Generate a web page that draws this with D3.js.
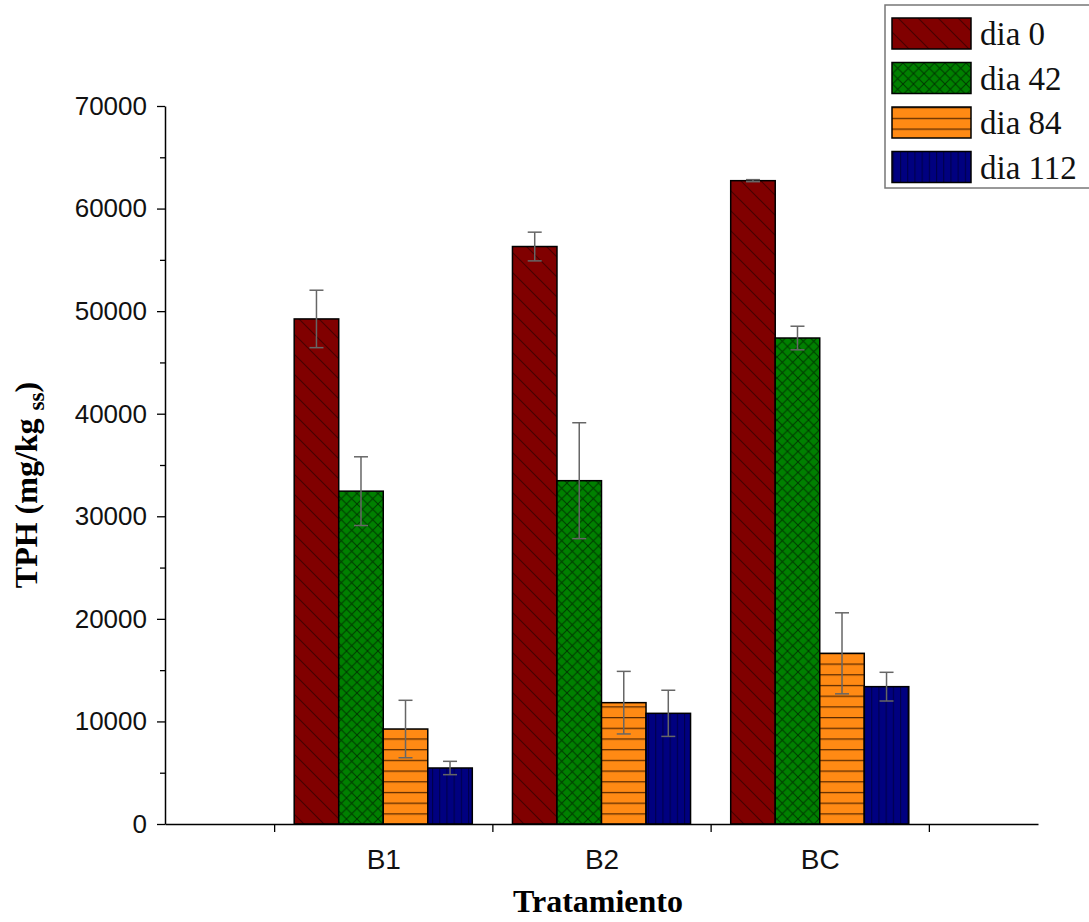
<!DOCTYPE html>
<html><head><meta charset="utf-8">
<script src="https://cdn.jsdelivr.net/npm/d3@7"></script>
<style>body{margin:0;background:#fff}</style></head>
<body><svg id="c" width="1089" height="922"></svg>
<script>
const categories = ["B1", "B2", "BC"];
const seriesNames = ["dia 0", "dia 42", "dia 84", "dia 112"];
const dia0 = [49240, 56300, 62720];
const dia0Err = [2800, 1400, 100];
const dia42 = [32450, 33470, 47380];
const dia42Err = [3350, 5650, 1150];
const dia84 = [9260, 11830, 16640];
const dia84Err = [2800, 3050, 3950];
const dia112 = [5460, 10790, 13390];
const dia112Err = [650, 2250, 1400];
const yTickValues = [0, 10000, 20000, 30000, 40000, 50000, 60000, 70000];
const yMinorTickValues = [5000, 15000, 25000, 35000, 45000, 55000, 65000];
const xBoundaryTicks = [0.5, 1.5, 2.5, 3.5];

const seriesValues = [dia0, dia42, dia84, dia112];
const seriesErrors = [dia0Err, dia42Err, dia84Err, dia112Err];
const fills = ["#800000", "#008000", "#ff8a14", "#000080"];
const patIds = ["p0", "p1", "p2", "p3"];

const svg = d3.select("#c");
const defs = svg.append("defs");

// patterns
const p0 = defs.append("pattern").attr("id", "p0").attr("patternUnits", "userSpaceOnUse")
  .attr("width", 20).attr("height", 20);
p0.append("rect").attr("width", 20).attr("height", 20).attr("fill", fills[0]);
p0.append("path").attr("d", "M0,0L20,20M-10,10L10,30M10,-10L30,10").attr("stroke", "#480000").attr("stroke-width", 1.2);

const p1 = defs.append("pattern").attr("id", "p1").attr("patternUnits", "userSpaceOnUse")
  .attr("width", 10.5).attr("height", 10.5);
p1.append("rect").attr("width", 10.5).attr("height", 10.5).attr("fill", fills[1]);
p1.append("path").attr("d", "M0,0L10.5,10.5M10.5,0L0,10.5").attr("stroke", "#003800").attr("stroke-width", 1);

const p2 = defs.append("pattern").attr("id", "p2").attr("patternUnits", "userSpaceOnUse")
  .attr("width", 10).attr("height", 10.7).attr("y", 824);
p2.append("rect").attr("width", 10).attr("height", 10.7).attr("fill", fills[2]);
p2.append("path").attr("d", "M0,0.6L10,0.6").attr("stroke", "#5a2a00").attr("stroke-width", 1.3);

const p3 = defs.append("pattern").attr("id", "p3").attr("patternUnits", "userSpaceOnUse")
  .attr("width", 7.2).attr("height", 10);
p3.append("rect").attr("width", 7.2).attr("height", 10).attr("fill", fills[3]);
p3.append("path").attr("d", "M0.5,0L0.5,10").attr("stroke", "#00004a").attr("stroke-width", 1.2);

const x = d3.scaleLinear().domain([0, 4]).range([165, 1038]);
const y = d3.scaleLinear().domain([0, 70000]).range([824, 106]);
const band = x(1) - x(0);
const bw = band * 0.204;

// bars
const g = svg.append("g");
seriesValues.forEach((vals, j) => {
  g.selectAll(null).data(vals).enter().append("rect")
    .attr("x", (d, i) => x(i + 1) + (j - 2) * bw)
    .attr("y", d => y(d))
    .attr("width", bw)
    .attr("height", d => y(0) - y(d))
    .attr("fill", `url(#${patIds[j]})`)
    .attr("stroke", "#000").attr("stroke-width", 1.5);
});
// error bars
seriesValues.forEach((vals, j) => {
  vals.forEach((v, i) => {
    const cx = x(i + 1) + (j - 2) * bw + bw / 2;
    const e = seriesErrors[j][i];
    const eg = g.append("g").attr("stroke", "#666").attr("stroke-width", 1.5).attr("fill", "none");
    eg.append("line").attr("x1", cx).attr("x2", cx).attr("y1", y(v + e)).attr("y2", y(v - e));
    eg.append("line").attr("x1", cx - 7).attr("x2", cx + 7).attr("y1", y(v + e)).attr("y2", y(v + e));
    eg.append("line").attr("x1", cx - 7).attr("x2", cx + 7).attr("y1", y(v - e)).attr("y2", y(v - e));
  });
});

// y axis
svg.append("g").attr("transform", "translate(165,0)")
  .call(d3.axisLeft(y).tickValues(yTickValues).tickSize(8).tickSizeOuter(0).tickPadding(10).tickFormat(d3.format("d")));
svg.append("g").attr("transform", "translate(165,0)")
  .call(d3.axisLeft(y).tickValues(yMinorTickValues).tickSize(5).tickFormat(""))
  .select(".domain").remove();
// x axis
svg.append("g").attr("transform", "translate(0,824)")
  .call(d3.axisBottom(x).tickValues(xBoundaryTicks).tickSize(8).tickSizeOuter(0).tickFormat(""));
const xLab = svg.append("g").attr("transform", "translate(0,824)")
  .call(d3.axisBottom(x).tickValues([1, 2, 3]).tickSize(0).tickPadding(25).tickFormat((d) => categories[d - 1]));
xLab.select(".domain").remove();

svg.selectAll(".domain").attr("stroke", "#000").attr("stroke-width", 1.5);
svg.selectAll(".tick line").attr("stroke", "#000").attr("stroke-width", 1.3);
svg.selectAll(".tick text").attr("font-family", "Liberation Sans, Arial, sans-serif")
  .attr("font-size", 26).attr("fill", "#111");
xLab.selectAll(".tick text").attr("font-size", 28);

// axis titles
svg.append("text").attr("x", 598).attr("y", 912).attr("text-anchor", "middle")
  .attr("font-family", "Liberation Serif, Times New Roman, serif").attr("font-weight", "bold")
  .attr("font-size", 32).text("Tratamiento");
const yt = svg.append("text").attr("transform", "translate(37,485) rotate(-90)").attr("text-anchor", "middle")
  .attr("font-family", "Liberation Serif, Times New Roman, serif").attr("font-weight", "bold")
  .attr("font-size", 32);
yt.append("tspan").text("TPH (mg/kg ");
yt.append("tspan").attr("dy", 7).attr("font-size", 23).text("ss");
yt.append("tspan").attr("dy", -7).text(")");

// legend
const lg = svg.append("g");
lg.append("rect").attr("x", 885).attr("y", 5).attr("width", 220).attr("height", 183)
  .attr("fill", "#fff").attr("stroke", "#777").attr("stroke-width", 1.5);
seriesNames.forEach((n, j) => {
  lg.append("rect").attr("x", 892).attr("y", 18 + 44.5 * j).attr("width", 79).attr("height", 31)
    .attr("fill", `url(#${patIds[j]})`).attr("stroke", "#000").attr("stroke-width", 1.5);
  lg.append("text").attr("x", 980).attr("y", 45 + 44.5 * j)
    .attr("font-family", "Liberation Serif, Times New Roman, serif").attr("font-size", 33)
    .attr("fill", "#111").text(n);
});
</script></body></html>
